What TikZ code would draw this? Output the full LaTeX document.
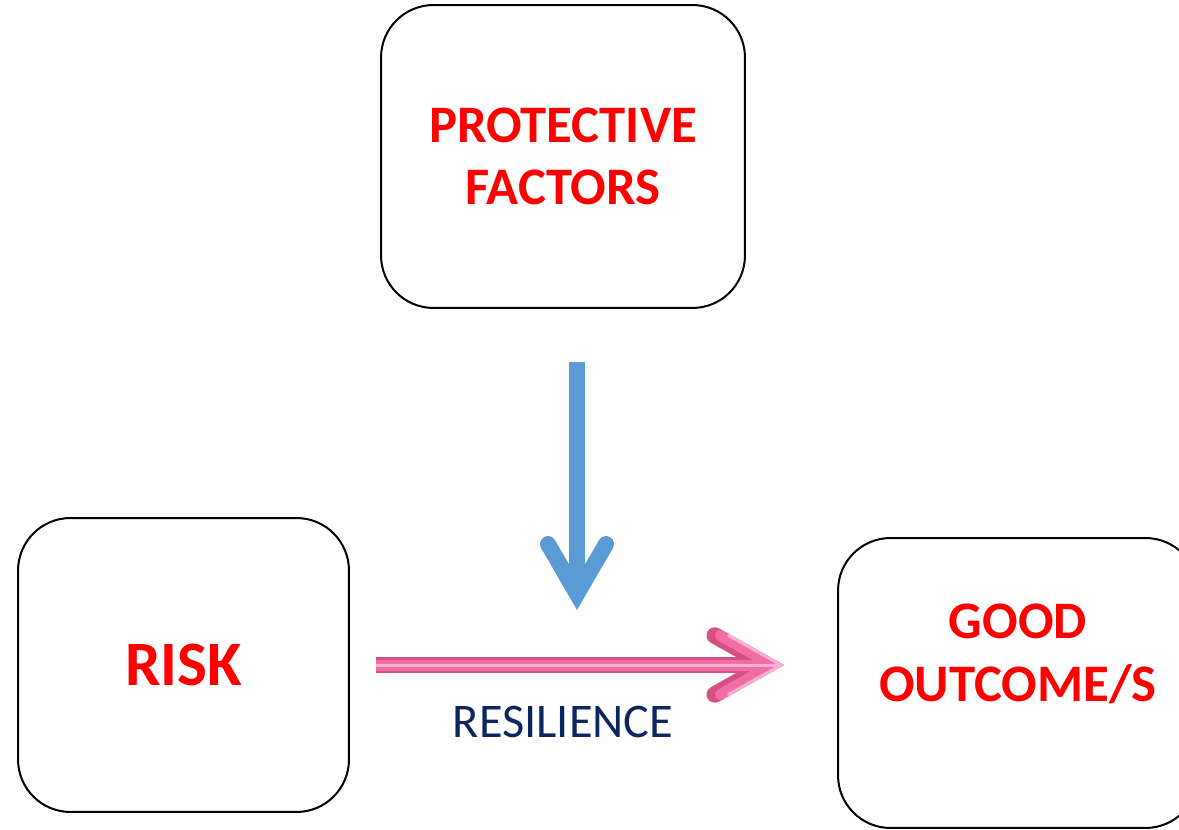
\documentclass[tikz,border=0pt]{standalone}
\usepackage{fontspec}
\setmainfont{Carlito}
\usetikzlibrary{arrows.meta,positioning}

\definecolor{boxred}{RGB}{255,0,0}
\definecolor{resblue}{RGB}{14,38,96}
\definecolor{arrowblue}{RGB}{91,155,213}
\definecolor{arrowpink}{RGB}{240,110,165}
\definecolor{pinkdark}{RGB}{214,80,132}
\definecolor{pinklight}{RGB}{252,175,212}

\begin{document}
\begin{tikzpicture}[x=0.02cm, y=-0.02cm,
  factorbox/.style={draw=black, line width=0.04cm, rounded corners=1.05cm, align=center, inner sep=0pt, text=boxred, font=\bfseries\fontsize{30}{35.5}\selectfont},
  boxtext/.style={align=center, inner sep=0pt, text=boxred, font=\bfseries\fontsize{30}{35.5}\selectfont},
  bluearrow/.style={draw=arrowblue, line width=0.32cm, -{Straight Barb[length=1.0cm, width=1.16cm, line cap=round]}},
  pinkarrow/.style={draw=pinkdark, line width=0.33cm, -{Straight Barb[length=1.05cm, width=1.18cm, line cap=round]}},
  reslabel/.style={inner sep=0pt, text=resblue, font=\fontsize{27.5}{32}\selectfont}]
\useasboundingbox (0,0) rectangle (1179,830);

% Caja de factores protectores (arriba)
\node[factorbox, minimum width=7.28cm, minimum height=6.06cm] (prot) at (563,156.5) {PROTECTIVE\\FACTORS};

% Caja de riesgo (izquierda)
\node[factorbox, minimum width=6.62cm, minimum height=5.88cm, font=\bfseries\fontsize{36}{40}\selectfont] (risk) at (183.5,665) {RISK};

% Caja de resultado (derecha, cortada por el borde)
\node[factorbox, minimum width=7.2cm, minimum height=5.8cm] (good) at (1018,683) {};
\node[boxtext] (goodtxt) at (1018,654) {GOOD\\OUTCOME/S};

% Flecha azul: los factores protectores actuan sobre el camino
\coordinate (pftop) at (577,362);
\coordinate (pftip) at (577,610);
\draw[bluearrow] (pftop) -- (pftip);

% Flecha rosa: de riesgo a buen resultado
\draw[pinkarrow, shorten <=0.52cm, shorten >=1.06cm,
  postaction={draw=arrowpink, line width=0.22cm},
  postaction={draw=pinklight, line width=0.06cm}]
  (risk.east) -- (risk.east -| good.west);
\node[reslabel] (res) at (563,722) {RESILIENCE};

\end{tikzpicture}
\end{document}
